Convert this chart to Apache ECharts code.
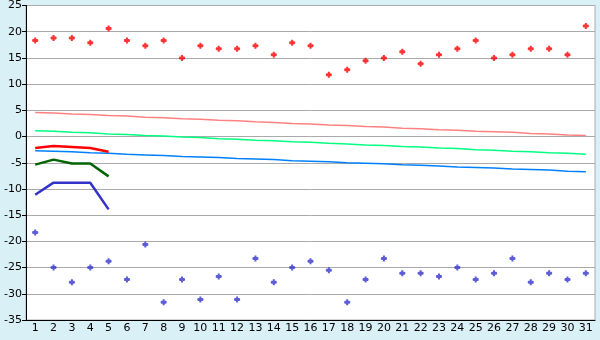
<!DOCTYPE html>
<html><head><meta charset="utf-8">
<script src="https://cdn.jsdelivr.net/npm/echarts@6/dist/echarts.min.js"></script>
<style>html,body{margin:0;padding:0;background:#d9f0f7;}#c{width:600px;height:340px;}</style>
</head><body><div id="c"></div>
<script>
var days = [];
for (var i = 1; i <= 31; i++) days.push(String(i));
var yTicks = [25, 20, 15, 10, 5, 0, -5, -10, -15, -20, -25, -30, -35];
var maxTemps = [18.3,18.8,18.8,17.9,20.6,18.3,17.3,18.3,15.0,17.3,16.75,16.75,17.3,15.6,17.9,17.3,11.8,12.75,14.45,15.0,16.2,13.9,15.6,16.75,18.3,15.0,15.6,16.75,16.75,15.6,21.1];
var minTemps = [-18.3,-25.0,-27.8,-25.0,-23.8,-27.25,-20.6,-31.6,-27.25,-31.1,-26.7,-31.1,-23.25,-27.8,-25.0,-23.8,-25.5,-31.6,-27.25,-23.25,-26.1,-26.1,-26.7,-25.0,-27.25,-26.1,-23.25,-27.8,-26.1,-27.25,-26.1];
var normMax = [4.6,4.5,4.3,4.2,4.0,3.9,3.7,3.6,3.4,3.3,3.1,3.0,2.8,2.7,2.5,2.4,2.2,2.1,1.9,1.8,1.6,1.5,1.3,1.2,1.0,0.9,0.8,0.6,0.5,0.3,0.2];
var normMean = [1.1,1.0,0.8,0.7,0.5,0.4,0.2,0.1,-0.1,-0.2,-0.4,-0.5,-0.7,-0.8,-1.0,-1.1,-1.3,-1.4,-1.6,-1.7,-1.9,-2.0,-2.2,-2.3,-2.5,-2.6,-2.8,-2.9,-3.1,-3.2,-3.4];
var normMin = [-2.7,-2.8,-2.9,-3.1,-3.2,-3.4,-3.5,-3.6,-3.8,-3.9,-4.0,-4.2,-4.3,-4.4,-4.6,-4.7,-4.8,-5.0,-5.1,-5.2,-5.4,-5.5,-5.6,-5.8,-5.9,-6.0,-6.2,-6.3,-6.4,-6.6,-6.7];
var curMax = [-2.2,-1.8,-2.0,-2.2,-2.9];
var curMean = [-5.35,-4.4,-5.15,-5.15,-7.6];
var curMin = [-11.1,-8.8,-8.8,-8.8,-13.9];

var marker = 'path://M2,0H4V1.5H5.5V2H6V4H5.5V4.5H4V6H2V4.5H0.5V4H0V2H0.5V1.5H2Z';
var chart = echarts.init(document.getElementById('c'), null, {renderer: 'canvas'});
function line(data, color, width, z) {
  return {type: 'line', data: data, symbol: 'none', smooth: false, z: z,
    lineStyle: {color: color, width: width}, animation: false};
}
chart.setOption({
  backgroundColor: '#d9f0f7',
  animation: false,
  grid: {left: 26, right: 5, top: 5, bottom: 20, containLabel: false, show: true,
    backgroundColor: '#ffffff', borderColor: '#aaaaaa', borderWidth: 1},
  xAxis: {type: 'category', data: days, boundaryGap: true,
    axisLine: {onZero: false, lineStyle: {color: '#000000', width: 1}},
    axisTick: {alignWithLabel: true, length: 5, lineStyle: {color: '#000000'}},
    axisLabel: {color: '#000000', fontFamily: 'DejaVu Sans', fontSize: 11, margin: 3, interval: 0},
    splitLine: {show: false}},
  yAxis: {type: 'value', min: -35, max: 25, interval: 5,
    axisLine: {show: true, onZero: false, lineStyle: {color: '#000000', width: 1}},
    axisTick: {show: true, length: 4, lineStyle: {color: '#000000'}},
    axisLabel: {color: '#000000', fontFamily: 'DejaVu Sans', fontSize: 11, margin: 4},
    splitLine: {lineStyle: {color: '#aaaaaa', width: 1}}},
  series: [
    line(normMax, '#ff8080', 1.5, 2),
    line(normMean, '#00ff80', 1.5, 2),
    line(normMin, '#0080ff', 1.5, 2),
    line(curMax, '#ff0000', 2.5, 3),
    line(curMean, '#006400', 2.5, 3),
    line(curMin, '#3333cc', 2.5, 3),
    {type: 'scatter', data: maxTemps, symbol: marker, symbolSize: 6, z: 4,
      itemStyle: {color: '#ff0000'}, animation: false},
    {type: 'scatter', data: minTemps, symbol: marker, symbolSize: 6, z: 4,
      itemStyle: {color: '#3333cc'}, animation: false}
  ]
});
</script></body></html>
